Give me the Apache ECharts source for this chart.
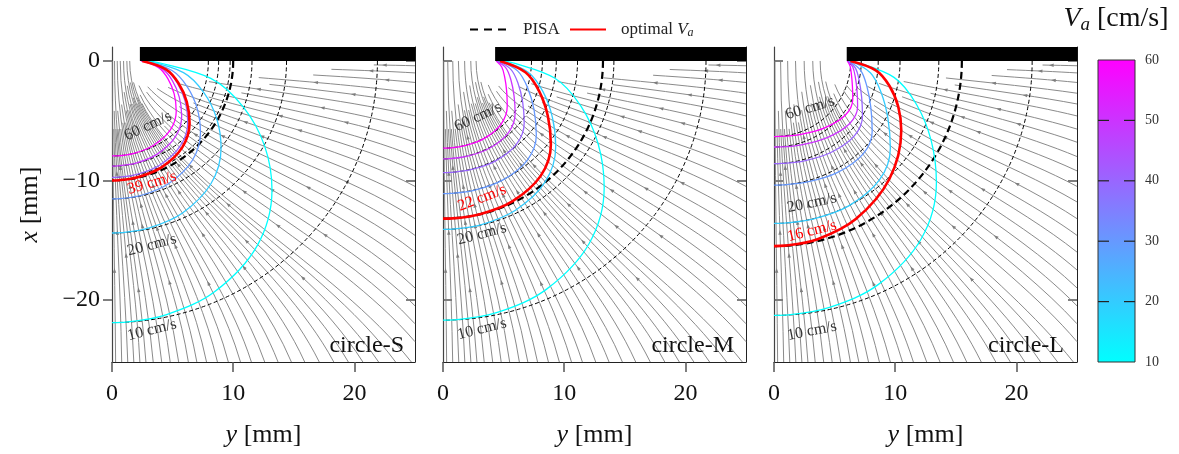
<!DOCTYPE html>
<html>
<head>
<meta charset="utf-8">
<script src="https://cdn.jsdelivr.net/npm/echarts@6/dist/echarts.min.js"></script>
<style>
  html, body { margin: 0; padding: 0; background: #fff; }
  #chart { width: 1179px; height: 454px; }
</style>
</head>
<body>
<div id="chart"></div>
<script>
// ---------------- data (mm, cm/s) ----------------
const panelNames = ['circle-S', 'circle-M', 'circle-L'];
const orificeRadius = [2.3, 4.3, 6.0];
const plateThickness = 1.17;
const levels = [60, 50, 40, 30, 20, 10];
const optimalVa = [39, 22, 16];

// PISA radius = axial distance where each isovelocity contour crosses the axis (same order as levels)
const pisaRadiusS = [7.95, 8.8, 9.75, 11.55, 14.4, 21.9];
const pisaRadiusM = [7.3, 8.2, 9.35, 11.1, 14.1, 21.7];
const pisaRadiusL = [6.33, 7.2, 8.6, 10.4, 13.6, 21.3];
const optimalRadius = [10.0, 13.2, 15.5];

// isovelocity contours [y, x] per panel, same order as levels
const contoursS = [
  [[2.4,0],[3.85,-0.56],[4.62,-1.5],[5.13,-2.76],[5.3,-4.2],[4.8,-5.79],[3.41,-7.07],[1.81,-7.73],[0.46,-7.94],[0,-7.95]],
  [[2.45,0],[4.1,-0.62],[4.98,-1.64],[5.55,-3.03],[5.75,-4.6],[5.21,-6.38],[3.7,-7.82],[1.97,-8.55],[0.5,-8.78],[0,-8.8]],
  [[2.5,0],[4.38,-0.68],[5.37,-1.82],[6.03,-3.36],[6.25,-5.1],[5.66,-7.07],[4.02,-8.66],[2.14,-9.47],[0.54,-9.73],[0,-9.75]],
  [[2.6,0],[4.95,-0.8],[6.2,-2.14],[7.02,-3.95],[7.3,-6.0],[6.61,-8.35],[4.69,-10.25],[2.5,-11.22],[0.64,-11.53],[0,-11.55]],
  [[2.8,0],[5.9,-0.98],[7.55,-2.61],[8.63,-4.8],[9.0,-7.3],[8.15,-10.3],[5.79,-12.74],[3.08,-13.97],[0.78,-14.37],[0,-14.4]],
  [[3.1,0],[8.15,-1.45],[10.84,-3.86],[12.59,-7.11],[13.2,-10.8],[11.96,-15.5],[8.49,-19.3],[4.51,-21.23],[1.15,-21.86],[0,-21.9]]
];
const contoursM = [
  [[4.4,0],[4.85,-0.51],[5.09,-1.36],[5.25,-2.5],[5.3,-3.8],[4.8,-5.28],[3.41,-6.48],[1.81,-7.09],[0.46,-7.29],[0,-7.3]],
  [[4.45,0],[5.2,-0.59],[5.6,-1.57],[5.86,-2.9],[5.95,-4.4],[5.39,-6.01],[3.83,-7.31],[2.03,-7.97],[0.52,-8.18],[0,-8.2]],
  [[4.5,0],[5.6,-0.7],[6.19,-1.86],[6.57,-3.42],[6.7,-5.2],[6.07,-6.96],[4.31,-8.38],[2.29,-9.1],[0.58,-9.33],[0,-9.35]],
  [[4.6,0],[6.15,-0.83],[6.97,-2.21],[7.51,-4.08],[7.7,-6.2],[6.98,-8.27],[4.95,-9.95],[2.63,-10.81],[0.67,-11.08],[0,-11.1]],
  [[4.8,0],[7.05,-0.96],[8.25,-2.57],[9.03,-4.74],[9.3,-7.2],[8.43,-10.12],[5.98,-12.49],[3.18,-13.69],[0.81,-14.07],[0,-14.1]],
  [[5.1,0],[9.2,-1.42],[11.38,-3.78],[12.81,-6.97],[13.3,-10.6],[12.05,-15.3],[8.55,-19.1],[4.55,-21.03],[1.16,-21.66],[0,-21.7]]
];
const contoursL = [
  [[6.05,0],[6.28,-0.43],[6.39,-1.14],[6.47,-2.11],[6.5,-3.2],[5.89,-4.52],[4.18,-5.6],[2.22,-6.14],[0.57,-6.32],[0,-6.33]],
  [[6.1,0],[6.5,-0.51],[6.71,-1.36],[6.85,-2.5],[6.9,-3.8],[6.25,-5.24],[4.44,-6.4],[2.36,-7.0],[0.6,-7.19],[0,-7.2]],
  [[6.15,0],[6.73,-0.62],[7.03,-1.64],[7.23,-3.03],[7.3,-4.6],[6.61,-6.29],[4.69,-7.66],[2.5,-8.36],[0.64,-8.58],[0,-8.6]],
  [[6.2,0],[7.15,-0.79],[7.66,-2.11],[7.99,-3.88],[8.1,-5.9],[7.34,-7.8],[5.21,-9.35],[2.77,-10.13],[0.7,-10.38],[0,-10.4]],
  [[6.3,0],[7.95,-0.98],[8.83,-2.61],[9.4,-4.8],[9.6,-7.3],[8.7,-9.96],[6.17,-12.13],[3.28,-13.22],[0.84,-13.57],[0,-13.6]],
  [[6.4,0],[9.9,-1.37],[11.76,-3.64],[12.98,-6.71],[13.4,-10.2],[12.14,-14.9],[8.62,-18.7],[4.58,-20.63],[1.17,-21.26],[0,-21.3]]
];
// contour of the optimal aliasing velocity
const optimalS = [[2.5,0],[4.45,-0.7],[5.49,-1.86],[6.17,-3.42],[6.4,-5.2],[5.8,-7.23],[4.12,-8.88],[2.19,-9.71],[0.56,-9.98],[0,-10]];
const optimalM = [[4.7,0],[6.8,-0.94],[7.92,-2.5],[8.65,-4.61],[8.9,-7.0],[8.06,-9.62],[5.72,-11.75],[3.04,-12.83],[0.77,-13.18],[0,-13.2]];
const optimalL = [[6.3,0],[8.4,-0.78],[9.52,-2.07],[10.25,-3.82],[10.5,-5.8],[9.51,-9.9],[6.75,-13.23],[3.59,-14.92],[0.91,-15.46],[0,-15.5]];

// streamlines leaving through the lower edge: exit y, exit direction (deg), entry angle at the orifice (deg), drawn share
const streamBottomY = [0.3,0.8,1.3,1.8,2.3,2.8,3.4,4.1,4.8,5.5,6.3,7.0,7.8,8.7,9.6,10.6,11.5,12.6,13.7,14.8,15.9,17.1,18.3,19.5,20.7,22.0,23.4,24.7];
const streamBottomDir = [89.5,89,88,87.5,87,86,85,84,83,82,81,80,78.5,77,75.5,74,72.5,71,69,67.5,66,64,62,60,58,56,54,52];
const streamBottomEntry = [0.7,1.8,3.0,4.1,5.2,6.3,7.7,9.2,10.8,12.3,14.0,15.5,17.2,19.0,20.9,22.8,24.5,26.6,28.5,30.4,32.2,34.2,36.0,37.7,39.4,41.1,42.9,44.4];
const streamBottomDrawn = [1,0.78,0.84,0.78,1,0.78,0.84,0.78,1,0.8,0.86,0.8,1,0.84,0.9,0.84,1,0.86,0.92,0.86,1,0.88,0.93,0.86,1,0.88,0.93,0.86];
// streamlines leaving through the right edge: exit x, exit direction, entry angle, drawn share
const streamRightX = [-23.5,-22,-20.5,-19,-17.5,-16,-14.6,-13.2,-11.8,-10.5,-9.2,-8.0,-6.8,-5.7,-4.6,-3.6,-2.7,-1.8,-1.0,-0.4];
const streamRightDir = [50,48,46,44,41.5,39,36.5,34,31,28.5,25.5,23,20,17,14,11,8.5,6,3.5,1.5];
const streamRightEntry = [46.8,48.7,50.6,52.8,55.0,57.4,59.7,62.2,64.7,67.2,69.8,72.3,74.8,77.2,79.6,81.8,83.8,85.9,87.7,89.1];
const streamRightDrawn = [0.88,0.75,0.9,0.75,0.85,0.7,0.85,0.7,0.8,0.65,0.75,0.6,0.7,0.5,0.6,0.42,0.45,0.3,0.25,0.13];

// colour bar
const colorbarMin = 10, colorbarMax = 60;
const colorbarTicks = [20, 30, 40, 50];

// ---------------- layout ----------------
const X_MIN = 0, X_MAX = 25, Y_MIN = -25.2, Y_MAX = plateThickness;
const gridLeft = [112, 443, 774];
const gridTop = 47, gridW = 303, gridH = 315;
const serif = "'Liberation Serif', 'DejaVu Serif', serif";
const streamColor = '#7d7d7d';

const pisaRadius = [pisaRadiusS, pisaRadiusM, pisaRadiusL];
const contours = [contoursS, contoursM, contoursL];
const optimalContour = [optimalS, optimalM, optimalL];

// matplotlib "cool" colormap: cyan (10) -> magenta (60)
function coolColor(v) {
  const t = (v - colorbarMin) / (colorbarMax - colorbarMin);
  return 'rgb(' + Math.round(255 * t) + ',' + Math.round(255 * (1 - t)) + ',255)';
}

// point and tangent on a cubic Bezier (pixel space)
function cubicAt(P, t) {
  const u = 1 - t;
  const pt = [0, 1].map(k => u * u * u * P[0][k] + 3 * u * u * t * P[1][k] + 3 * u * t * t * P[2][k] + t * t * t * P[3][k]);
  const d = [0, 1].map(k => 3 * u * u * (P[1][k] - P[0][k]) + 6 * u * t * (P[2][k] - P[1][k]) + 3 * t * t * (P[3][k] - P[2][k]));
  return [pt, d];
}

const streamRows = [];
streamBottomY.forEach((y, i) => streamRows.push([y, Y_MIN, streamBottomDir[i], streamBottomEntry[i], streamBottomDrawn[i]]));
streamRightX.forEach((x, i) => streamRows.push([X_MAX, x, streamRightDir[i], streamRightEntry[i], streamRightDrawn[i]]));
const arrowStops = [0.3, 0.55, 0.75, 0.45, 0.65];

const grids = [], xAxes = [], yAxes = [], series = [];
const tickColor = '#222';
const richItalic = size => ({ i: { fontFamily: serif, fontSize: size, fontStyle: 'italic', color: '#111' } });

for (let p = 0; p < 3; p++) {
  grids.push({ left: gridLeft[p], top: gridTop, width: gridW, height: gridH, outerBoundsMode: 'none' });
  xAxes.push({
    gridIndex: p, type: 'value', min: X_MIN, max: X_MAX,
    axisLine: { show: true, onZero: false, lineStyle: { color: tickColor, width: 1 } },
    axisTick: { show: true, length: 10, customValues: [0, 10, 20], lineStyle: { color: '#555', width: 1.5 } },
    axisLabel: { customValues: [0, 10, 20], fontFamily: serif, fontSize: 24, color: '#111', margin: 20 },
    splitLine: { show: false },
    name: '{i|y} [mm]', nameLocation: 'middle', nameGap: 60,
    nameTextStyle: { fontFamily: serif, fontSize: 26, color: '#111', rich: richItalic(26) }
  });
  yAxes.push({
    gridIndex: p, type: 'value', min: Y_MIN, max: Y_MAX, position: 'left',
    axisLine: { show: true, onZero: false, lineStyle: { color: '#444', width: 1.2 } },
    axisTick: { show: true, inside: p > 0, length: 9, customValues: [0, -10, -20], lineStyle: { color: '#555', width: 1.5 } },
    axisLabel: {
      show: p === 0, customValues: [0, -10, -20], fontFamily: serif, fontSize: 24, color: '#111', margin: 12,
      formatter: v => (v < 0 ? '\u2212' + (-v) : String(v))
    },
    splitLine: { show: false },
    name: p === 0 ? '{i|x} [mm]' : '', nameLocation: 'middle', nameGap: 69, nameRotate: 90,
    nameTextStyle: { fontFamily: serif, fontSize: 26, color: '#111', rich: richItalic(26) }
  });
  yAxes.push({
    gridIndex: p, type: 'value', min: Y_MIN, max: Y_MAX, position: 'right',
    axisLine: { show: true, onZero: false, lineStyle: { color: tickColor, width: 1 } },
    axisTick: { show: true, inside: true, length: 9, customValues: [0, -10, -20], lineStyle: { color: '#555', width: 1.5 } },
    axisLabel: { show: false }, splitLine: { show: false }
  });
  const yi = 2 * p;
  const a = orificeRadius[p];

  // streamlines: cubic curves from the exit point back into the orifice, with a flow arrow
  series.push({
    type: 'custom', xAxisIndex: p, yAxisIndex: yi, silent: true, z: 1,
    data: streamRows,
    renderItem: (params, api) => {
      const ex = api.value(0), ey = api.value(1);
      const dir = api.value(2) * Math.PI / 180;
      const nu = api.value(3) * Math.PI / 180;
      const drawn = api.value(4);
      const sx = a * Math.sin(nu);
      const len = Math.hypot(ex - sx, ey);
      const h1 = 0.35 * len * Math.cos(nu) + 0.1;
      const h2 = 0.35 * len;
      const P = [
        api.coord([ex, ey]),
        api.coord([ex - h2 * Math.cos(dir), ey + h2 * Math.sin(dir)]),
        api.coord([sx, -h1]),
        api.coord([sx, 0])
      ];
      const [m, d] = cubicAt(P, drawn * arrowStops[params.dataIndex % arrowStops.length]);
      const n = Math.hypot(d[0], d[1]) || 1;
      const ux = d[0] / n, uy = d[1] / n;
      return {
        type: 'group',
        children: [
          {
            type: 'bezierCurve',
            shape: { x1: P[0][0], y1: P[0][1], cpx1: P[1][0], cpy1: P[1][1], cpx2: P[2][0], cpy2: P[2][1], x2: P[3][0], y2: P[3][1], percent: drawn },
            style: { stroke: streamColor, lineWidth: 0.9, fill: null }
          },
          {
            type: 'polygon',
            shape: { points: [
              [m[0] + ux * 2.6, m[1] + uy * 2.6],
              [m[0] - ux * 2 - uy * 1.7, m[1] - uy * 2 + ux * 1.7],
              [m[0] - ux * 2 + uy * 1.7, m[1] - uy * 2 - ux * 1.7]
            ] },
            style: { fill: streamColor }
          }
        ]
      };
    }
  });

  // PISA hemispheres (quarter circles about the orifice centre)
  const pisaRows = pisaRadius[p].map(r => [r, 0]).concat([[optimalRadius[p], 1]]);
  series.push({
    type: 'custom', xAxisIndex: p, yAxisIndex: yi, silent: true, z: 2,
    data: pisaRows,
    renderItem: (params, api) => {
      const r = api.value(0), thick = api.value(1) === 1;
      const c = api.coord([0, 0]), pr = api.coord([r, 0]), pb = api.coord([0, -r]);
      const rx = pr[0] - c[0], ry = pb[1] - c[1];
      return {
        type: 'path',
        shape: { pathData: 'M ' + pr[0] + ' ' + pr[1] + ' A ' + rx + ' ' + ry + ' 0 0 1 ' + pb[0] + ' ' + pb[1] },
        style: { stroke: '#000', lineWidth: thick ? 2.2 : 1, lineDash: thick ? [7, 4] : [4, 2.5], fill: null },
        z2: thick ? 5 : 1
      };
    }
  });

  // isovelocity contours
  levels.forEach((v, k) => {
    series.push({
      type: 'line', xAxisIndex: p, yAxisIndex: yi, silent: true, z: 3,
      data: contours[p][k], smooth: 0.35, showSymbol: false,
      lineStyle: { color: coolColor(v), width: 1.3 }
    });
  });
  series.push({
    type: 'line', xAxisIndex: p, yAxisIndex: yi, silent: true, z: 4,
    data: optimalContour[p], smooth: 0.35, showSymbol: false,
    lineStyle: { color: '#ff0000', width: 2.6 }
  });

  // orifice plate
  series.push({
    type: 'custom', xAxisIndex: p, yAxisIndex: yi, silent: true, z: 6, clip: false,
    data: [[a, X_MAX]],
    renderItem: (params, api) => {
      const tl = api.coord([api.value(0), plateThickness]);
      const br = api.coord([api.value(1), 0]);
      return { type: 'rect', shape: { x: tl[0], y: tl[1], width: br[0] - tl[0] + 0.5, height: br[1] - tl[1] }, style: { fill: '#000' } };
    }
  });
}

// colour bar grid
grids.push({ left: 1098, top: 60, width: 37, height: 302, outerBoundsMode: 'none' });
xAxes.push({ gridIndex: 3, type: 'value', min: 0, max: 1, show: false });
yAxes.push({
  gridIndex: 3, type: 'value', min: colorbarMin, max: colorbarMax, interval: 10, position: 'right',
  axisLine: { show: false }, splitLine: { show: false }, axisTick: { show: false },
  axisLabel: { fontFamily: serif, fontSize: 14, color: '#333', margin: 10 }
});
series.push({
  type: 'custom', xAxisIndex: 3, yAxisIndex: 6, silent: true, z: 0,
  data: [[0, colorbarMin, 1, colorbarMax]],
  renderItem: (params, api) => {
    const tl = api.coord([api.value(0), api.value(3)]);
    const br = api.coord([api.value(2), api.value(1)]);
    const children = [{
      type: 'rect', shape: { x: tl[0], y: tl[1], width: br[0] - tl[0], height: br[1] - tl[1] },
      style: {
        fill: new echarts.graphic.LinearGradient(0, 0, 0, 1, [
          { offset: 0, color: coolColor(colorbarMax) }, { offset: 1, color: coolColor(colorbarMin) }
        ]),
        stroke: '#333', lineWidth: 1
      }
    }];
    colorbarTicks.forEach(v => {
      const y = api.coord([0, v])[1];
      children.push({ type: 'line', shape: { x1: tl[0], y1: y, x2: tl[0] + 11, y2: y }, style: { stroke: '#222', lineWidth: 1.2 } });
      children.push({ type: 'line', shape: { x1: br[0] - 11, y1: y, x2: br[0], y2: y }, style: { stroke: '#222', lineWidth: 1.2 } });
    });
    return { type: 'group', children };
  }
});

// ---------------- text ----------------
const contourLabels = [
  // [text, x, y, rotation deg, colour]
  ['60 cm/s', 148, 126, 25, '#333'], [optimalVa[0] + ' cm/s', 152, 183, 16, '#ff0000'],
  ['20 cm/s', 152, 245, 15, '#333'], ['10 cm/s', 152, 330, 14, '#333'],
  ['60 cm/s', 478, 117, 25, '#333'], [optimalVa[1] + ' cm/s', 482, 198, 21, '#ff0000'],
  ['20 cm/s', 482, 234, 15, '#333'], ['10 cm/s', 482, 329, 14, '#333'],
  ['60 cm/s', 810, 108, 17, '#333'], ['20 cm/s', 812, 203, 12, '#333'],
  [optimalVa[2] + ' cm/s', 812, 231, 14, '#ff0000'], ['10 cm/s', 812, 331, 11, '#333']
];
const graphic = [];
contourLabels.forEach(l => {
  graphic.push({
    type: 'text', x: l[1], y: l[2], rotation: l[3] * Math.PI / 180, z: 100,
    style: { text: l[0], fill: l[4], align: 'center', verticalAlign: 'middle', fontFamily: serif, fontSize: 16 }
  });
});
const nameRight = [404, 734, 1064];
panelNames.forEach((n, p) => {
  graphic.push({
    type: 'text', x: nameRight[p], y: 346, z: 100,
    style: { text: n, fill: '#111', align: 'right', verticalAlign: 'middle', fontFamily: serif, fontSize: 24 }
  });
});
// legend and colour bar title
graphic.push(
  { type: 'line', shape: { x1: 470, y1: 29.5, x2: 511, y2: 29.5 }, style: { stroke: '#000', lineWidth: 2, lineDash: [8, 6] } },
  { type: 'text', x: 523, y: 29.5, style: { text: 'PISA', fill: '#222', verticalAlign: 'middle', fontFamily: serif, fontSize: 17 } },
  { type: 'line', shape: { x1: 570, y1: 29.5, x2: 606, y2: 29.5 }, style: { stroke: '#ff0000', lineWidth: 2 } },
  {
    type: 'text', x: 621, y: 29.5,
    style: {
      text: '{r|optimal }{i|V}{s|a}', verticalAlign: 'middle',
      rich: {
        r: { fontFamily: serif, fontSize: 17, fill: '#222' },
        i: { fontFamily: serif, fontSize: 17, fontStyle: 'italic', fill: '#222' },
        s: { fontFamily: serif, fontSize: 12, fontStyle: 'italic', fill: '#222', verticalAlign: 'bottom', padding: [7, 0, 0, 0] }
      }
    }
  },
  {
    type: 'text', x: 1116, y: 19,
    style: {
      text: '{i|V}{s|a}{r| [cm/s]}', align: 'center', verticalAlign: 'middle',
      rich: {
        r: { fontFamily: serif, fontSize: 28, fill: '#111' },
        i: { fontFamily: serif, fontSize: 28, fontStyle: 'italic', fill: '#111' },
        s: { fontFamily: serif, fontSize: 19, fontStyle: 'italic', fill: '#111', verticalAlign: 'bottom', padding: [11, 0, 0, 0] }
      }
    }
  }
);

const chart = echarts.init(document.getElementById('chart'), null, { renderer: 'canvas', width: 1179, height: 454 });
chart.setOption({
  animation: false,
  backgroundColor: '#fff',
  grid: grids, xAxis: xAxes, yAxis: yAxes, series: series, graphic: graphic
});
</script>
</body>
</html>
